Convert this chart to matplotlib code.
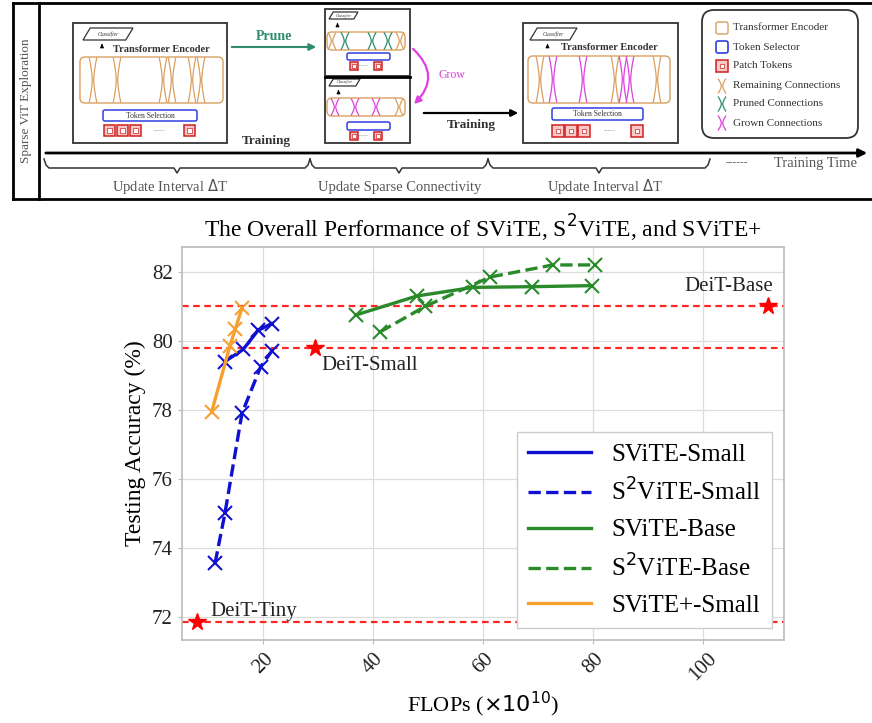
import numpy as np
import matplotlib
matplotlib.use('Agg')
from matplotlib import pyplot as plt
from matplotlib.patches import Rectangle, FancyBboxPatch, Polygon, FancyArrowPatch

plt.rcParams['font.family'] = 'Liberation Serif'
plt.rcParams['mathtext.fontset'] = 'dejavusans'

# FLOPs (x1e10) vs top-1 accuracy (%)
svite_small_x = [13.1, 16.4, 19.1, 21.6]
svite_small_y = [79.4, 79.75, 80.3, 80.5]
s2vite_small_x = [11.3, 13.1, 16.2, 19.6, 21.6]
s2vite_small_y = [73.55, 75.0, 77.9, 79.25, 79.7]
svite_base_x = [36.9, 48.0, 58.2, 68.9, 79.8]
svite_base_y = [80.75, 81.3, 81.55, 81.57, 81.6]
s2vite_base_x = [41.3, 49.5, 61.3, 72.7, 80.4]
s2vite_base_y = [80.26, 81.0, 81.85, 82.2, 82.2]
sviteplus_small_x = [10.7, 14.0, 15.0, 16.2]
sviteplus_small_y = [77.95, 79.85, 80.35, 80.95]

deit_names = ['DeiT-Tiny', 'DeiT-Small', 'DeiT-Base']
deit_flops = [8.0, 29.5, 111.8]
deit_acc = [71.85, 79.8, 81.0]

series = [
    ('SViTE-Small', svite_small_x, svite_small_y, '#1010d0', '-'),
    ('S$^2$ViTE-Small', s2vite_small_x, s2vite_small_y, '#1010d0', '--'),
    ('SViTE-Base', svite_base_x, svite_base_y, '#2a8a2a', '-'),
    ('S$^2$ViTE-Base', s2vite_base_x, s2vite_base_y, '#2a8a2a', '--'),
    ('SViTE+-Small', sviteplus_small_x, sviteplus_small_y, '#f5a030', '-'),
]

ORANGE = '#d9a060'
PRUNED = '#2e8b6e'
GROWN = '#e040e0'
DARK = '#333333'

fig = plt.figure(figsize=(8.72, 7.23), dpi=100)

# ---------- top diagram, drawn in pixel coordinates ----------
dax = fig.add_axes([0, 0, 1, 1])
dax.set_xlim(0, 872)
dax.set_ylim(723, 0)
dax.axis('off')


def hourglass(ax, xc, top, bot, color, w=3.0, lw=0.9):
    t = np.linspace(0, 1, 25)
    yy = top + (bot - top) * t
    d = w * np.abs(2 * t - 1) ** 1.5 + 0.7
    ax.plot(xc - d, yy, color=color, lw=lw)
    ax.plot(xc + d, yy, color=color, lw=lw)


def classifier(ax, x0, y0, x1, y1, fs=4):
    s = (y1 - y0) * 0.6
    ax.add_patch(Polygon([(x0, y1), (x0 + s, y0), (x1, y0), (x1 - s, y1)],
                         closed=True, fc='white', ec=DARK, lw=0.9))
    ax.text((x0 + x1) / 2, (y0 + y1) / 2, 'Classifier', fontsize=fs,
            ha='center', va='center', style='italic', color=DARK)


def token_row(ax, xs, y0, size, gap_x=None):
    for x in xs:
        ax.add_patch(Rectangle((x, y0), size, size, fc='#f6c8c8', ec='#d02020', lw=1.1))
        ax.add_patch(Rectangle((x + size * 0.3, y0 + size * 0.3), size * 0.4, size * 0.4,
                               fc='white', ec='#d02020', lw=0.5))
    if gap_x is not None:
        ax.text(gap_x, y0 + size / 2, '-----', fontsize=5, ha='center', va='center',
                color='#888888')


def encoder_block(ax, box, cls, bar, sel, toks, tok_size, gap_x, conns, title=True, sel_fs=5.5):
    x0, y0, x1, y1 = box
    ax.add_patch(Rectangle((x0, y0), x1 - x0, y1 - y0, fc='white', ec=DARK, lw=1.3))
    classifier(ax, *cls)
    ax.annotate('', xy=((cls[0] + cls[2]) / 2 - 6, cls[3] + 1),
                xytext=((cls[0] + cls[2]) / 2 - 6, cls[3] + 8),
                arrowprops=dict(arrowstyle='-|>', color='black', lw=0.8, mutation_scale=5))
    bx0, by0, bx1, by1 = bar
    ax.add_patch(FancyBboxPatch((bx0, by0), bx1 - bx0, by1 - by0,
                                boxstyle='round,pad=0,rounding_size=5',
                                fc='white', ec=ORANGE, lw=1.0))
    if title:
        ax.text((bx0 + bx1) / 2 + 10, by0 - 8, 'Transformer Encoder', fontsize=7.5,
                ha='center', va='center', color=DARK, fontweight='bold')
    for xc, col in conns:
        hourglass(ax, xc, by0 + 1, by1 - 1, col)
    sx0, sy0, sx1, sy1 = sel
    ax.add_patch(FancyBboxPatch((sx0, sy0), sx1 - sx0, sy1 - sy0,
                                boxstyle='round,pad=0,rounding_size=2',
                                fc='white', ec='#3040e0', lw=1.1))
    if sel_fs:
        ax.text((sx0 + sx1) / 2, (sy0 + sy1) / 2, 'Token Selection', fontsize=sel_fs,
                ha='center', va='center', color=DARK)
    token_row(ax, toks[0], toks[1], tok_size, gap_x)


# outer frame
dax.plot([13, 872], [3, 3], color='black', lw=2)
dax.plot([13, 872], [199, 199], color='black', lw=2)
dax.plot([13, 13], [3, 199], color='black', lw=2)
dax.plot([39, 39], [3, 199], color='black', lw=2)
dax.text(26, 101, 'Sparse ViT Exploration', rotation=90, fontsize=9.5,
         ha='center', va='center', color='#555555')

# first encoder
encoder_block(dax, (73, 23, 227, 143), (83, 28, 133, 40), (80, 57, 223, 103),
              (103, 110, 197, 121), ([104, 117, 130, 184], 125), 11, 160,
              [(93, ORANGE), (117, ORANGE), (163, ORANGE), (172, ORANGE),
               (192, ORANGE), (201, ORANGE)])

# prune arrow
dax.annotate('', xy=(319, 47), xytext=(229, 47),
             arrowprops=dict(arrowstyle='-|>', color=PRUNED, lw=1.5, mutation_scale=10))
dax.text(274, 37, 'Prune', fontsize=10, ha='center', va='center', color=PRUNED,
         fontweight='bold')
dax.text(266, 141, 'Training', fontsize=9.5, ha='center', va='center', color=DARK,
         fontweight='bold')

# pruned / grown pair
encoder_block(dax, (325, 9, 410, 76), (329, 12, 358, 19, 3), (327, 32, 405, 50),
              (347, 53, 390, 60), ([350, 374], 62), 8, 363,
              [(332, ORANGE), (345, PRUNED), (372, PRUNED), (388, PRUNED), (400, ORANGE)],
              title=False, sel_fs=None)
encoder_block(dax, (325, 77, 410, 143), (329, 79, 360, 86, 3), (327, 98, 405, 116),
              (347, 122, 390, 130), ([350, 374], 132), 8, 363,
              [(335, GROWN), (355, GROWN), (376, GROWN), (399, ORANGE)],
              title=False, sel_fs=None)
dax.plot([325, 410], [76.5, 76.5], color='black', lw=2)
dax.add_patch(FancyArrowPatch((411, 47), (412, 106), connectionstyle='arc3,rad=-0.55',
                              arrowstyle='-|>', color=GROWN, lw=1.6, mutation_scale=10))
dax.text(452, 75, 'Grow', fontsize=8.5, ha='center', va='center', color=GROWN)

# training arrow
dax.annotate('', xy=(521, 113), xytext=(421, 113),
             arrowprops=dict(arrowstyle='-|>', color='black', lw=1.6, mutation_scale=10))
dax.text(471, 125, 'Training', fontsize=9.5, ha='center', va='center', color=DARK,
         fontweight='bold')

# updated encoder
encoder_block(dax, (523, 23, 678, 143), (530, 28, 577, 40), (528, 56, 670, 103),
              (552, 108, 643, 120), ([552, 565, 578, 631], 125), 12, 610,
              [(540, ORANGE), (553, GROWN), (583, GROWN), (615, ORANGE),
               (623, GROWN), (630, GROWN), (657, ORANGE)])

# key
dax.add_patch(FancyBboxPatch((702, 10), 156, 128, boxstyle='round,pad=0,rounding_size=12',
                             fc='white', ec=DARK, lw=1.3))
key_labels = ['Transformer Encoder', 'Token Selector', 'Patch Tokens',
              'Remaining Connections', 'Pruned Connections', 'Grown Connections']
key_y = [28, 47, 66, 86, 104, 123]
for lab, yk in zip(key_labels, key_y):
    dax.text(733, yk, lab, fontsize=8, ha='left', va='center', color=DARK)
dax.add_patch(FancyBboxPatch((716, 22), 12, 12, boxstyle='round,pad=0,rounding_size=2',
                             fc='white', ec=ORANGE, lw=1.0))
dax.add_patch(FancyBboxPatch((716, 41), 12, 12, boxstyle='round,pad=0,rounding_size=2',
                             fc='white', ec='#3040e0', lw=1.2))
token_row(dax, [716], 60, 12)
hourglass(dax, 722, 79, 93, ORANGE, w=3)
hourglass(dax, 722, 97, 111, PRUNED, w=3)
hourglass(dax, 722, 116, 130, GROWN, w=3)

# timeline with braces
dax.annotate('', xy=(870, 153), xytext=(43, 153),
             arrowprops=dict(arrowstyle='-|>', color='black', lw=2, mutation_scale=12))


def brace(ax, xa, xb):
    xm = (xa + xb) / 2
    ax.plot([xa, xa + 2, xa + 5, xm - 3, xm, xm + 3, xb - 5, xb - 2, xb],
            [159, 165, 168, 168, 173, 168, 168, 165, 159], color=DARK, lw=1.1)


brace(dax, 44, 310)
brace(dax, 310, 488)
brace(dax, 488, 710)
dax.text(170, 187, r'Update Interval $\Delta$T', fontsize=10.5, ha='center', va='center',
         color='#555555')
dax.text(400, 187, 'Update Sparse Connectivity', fontsize=10.5, ha='center', va='center',
         color='#555555')
dax.text(605, 187, r'Update Interval $\Delta$T', fontsize=10.5, ha='center', va='center',
         color='#555555')
dax.text(737, 163, '------', fontsize=8, ha='center', va='center', color='#555555')
dax.text(815, 164, 'Training Time', fontsize=10.5, ha='center', va='center', color='#555555')

# ---------- performance chart ----------
ax = fig.add_axes([182 / 872, 1 - 640 / 723, 602 / 872, 393 / 723])

for acc in deit_acc:
    ax.axhline(acc, color='red', ls=(0, (3, 2)), lw=1.6, alpha=0.85, zorder=1)
ax.plot(deit_flops, deit_acc, '*', color='red', ms=13, zorder=4)

for label, xs, ys, col, ls in series:
    ax.plot(xs, ys, ls=ls, color=col, lw=2.4, label=label, zorder=3)
    ax.plot(xs, ys, 'x', color=col, ms=10, mew=1.5, zorder=3)

ax.text(10.4, 72.17, deit_names[0], fontsize=15, ha='left', va='center', color='#222222')
ax.text(30.7, 79.3, deit_names[1], fontsize=15, ha='left', va='center', color='#222222')
ax.text(112.7, 81.57, deit_names[2], fontsize=15, ha='right', va='center', color='#222222')

ax.set_xlim(5.3, 114.7)
ax.set_ylim(71.33, 82.72)
ax.set_xticks([20, 40, 60, 80, 100])
ax.set_yticks([72, 74, 76, 78, 80, 82])
ax.grid(True, color='#dddddd', lw=0.9)
ax.set_axisbelow(True)
for sp in ax.spines.values():
    sp.set_color('#bbbbbb')
    sp.set_linewidth(1.2)
ax.tick_params(axis='both', labelsize=15, colors='#222222', length=3, color='#bbbbbb')
plt.setp(ax.get_xticklabels(), rotation=45, ha='center')

ax.set_title('The Overall Performance of SViTE, S$^2$ViTE, and SViTE+', fontsize=17, pad=7)
ax.set_xlabel(r'FLOPs ($\times10^{10}$)', fontsize=16)
ax.set_ylabel('Testing Accuracy (%)', fontsize=17)

ax.legend(loc='lower right', fontsize=18, handlelength=2.5, handletextpad=0.8,
          labelspacing=0.52, borderpad=0.45, framealpha=1.0, edgecolor='#cccccc',
          fancybox=False, borderaxespad=0, bbox_to_anchor=(0.98, 0.03))

fig.savefig('out.png', dpi=100)
